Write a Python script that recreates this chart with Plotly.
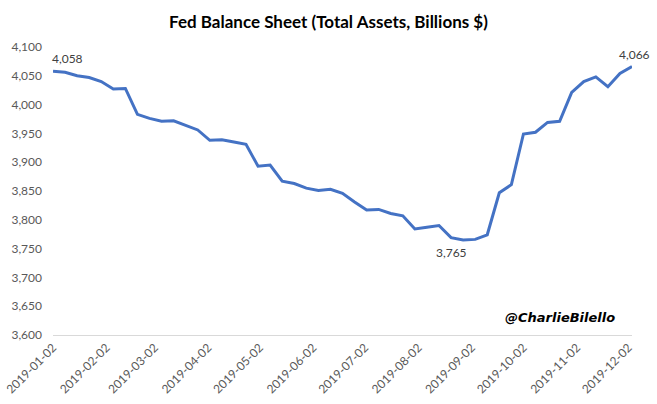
import plotly.graph_objects as go
import pandas as pd

dates = pd.date_range("2019-01-02", periods=49, freq="7D").strftime("%Y-%m-%d").tolist()
total_assets = [
    4058, 4056, 4050, 4047, 4040, 4027, 4028, 3983, 3976, 3971,
    3972, 3964, 3956, 3938, 3939, 3935, 3931, 3893, 3895, 3867,
    3863, 3855, 3851, 3853, 3846, 3831, 3817, 3818, 3811, 3807,
    3784, 3787, 3790, 3769, 3765, 3766, 3774, 3847, 3861, 3949,
    3952, 3969, 3971, 4021, 4040, 4048, 4031, 4054, 4066,
]
tick_dates = ["2019-%02d-02" % m for m in range(1, 13)]
y_ticks = list(range(3600, 4101, 50))

title = "Fed Balance Sheet (Total Assets, Billions $)"
watermark = "@CharlieBilello"

label_font = "Lato, sans-serif"

fig = go.Figure()
fig.add_trace(go.Scatter(
    x=dates, y=total_assets, mode="lines",
    line=dict(color="#4472C4", width=3),
    hoverinfo="x+y",
))

i_min = total_assets.index(min(total_assets))
i_last = len(total_assets) - 1
# (index, xanchor, yanchor, xshift, yshift)
labels = [
    (0, "left", "bottom", -3, 3),
    (i_min, "center", "top", -12, -3),
    (i_last, "right", "bottom", 20, 3),
]
for idx, xa, ya, dx, dy in labels:
    fig.add_annotation(
        x=dates[idx], y=total_assets[idx], text=f"{total_assets[idx]:,}",
        showarrow=False, xanchor=xa, yanchor=ya, xshift=dx, yshift=dy,
        font=dict(family=label_font, size=12, color="#404040"),
    )

fig.add_annotation(
    x=1.0, y=0.06, xref="paper", yref="paper", xanchor="right", yanchor="middle",
    xshift=-15, text=f"<b><i>{watermark}</i></b>", showarrow=False,
    font=dict(family="DejaVu Sans", size=13, color="#000000"),
)

fig.update_layout(
    width=657, height=404,
    margin=dict(l=53, r=25, t=47, b=69),
    paper_bgcolor="white", plot_bgcolor="white",
    showlegend=False,
    title=dict(text=f"<b>{title}</b>", x=0.5, xanchor="center", y=0.945, yanchor="middle",
               font=dict(family=label_font, size=17, color="#000000")),
    font=dict(family=label_font, size=12, color="#595959"),
)
fig.update_xaxes(
    type="date", range=[dates[0], dates[-1]], automargin=False,
    tickmode="array", tickvals=tick_dates, ticktext=tick_dates,
    tickangle=-45, showgrid=False, showline=True, linecolor="#d9d9d9", linewidth=1,
    ticks="", zeroline=False, tickfont=dict(size=12, color="#595959"),
)
fig.update_yaxes(
    range=[3600, 4100], automargin=False, tickmode="array", tickvals=y_ticks,
    ticktext=[f"{v:,}" for v in y_ticks],
    showgrid=False, zeroline=False, showline=False, ticks="",
    ticklabelstandoff=10, tickfont=dict(size=12, color="#595959"),
)

fig.write_html(
    "out.html",
    config={"displayModeBar": False},
    post_script="document.body.style.margin='0';document.body.style.padding='0';",
)
